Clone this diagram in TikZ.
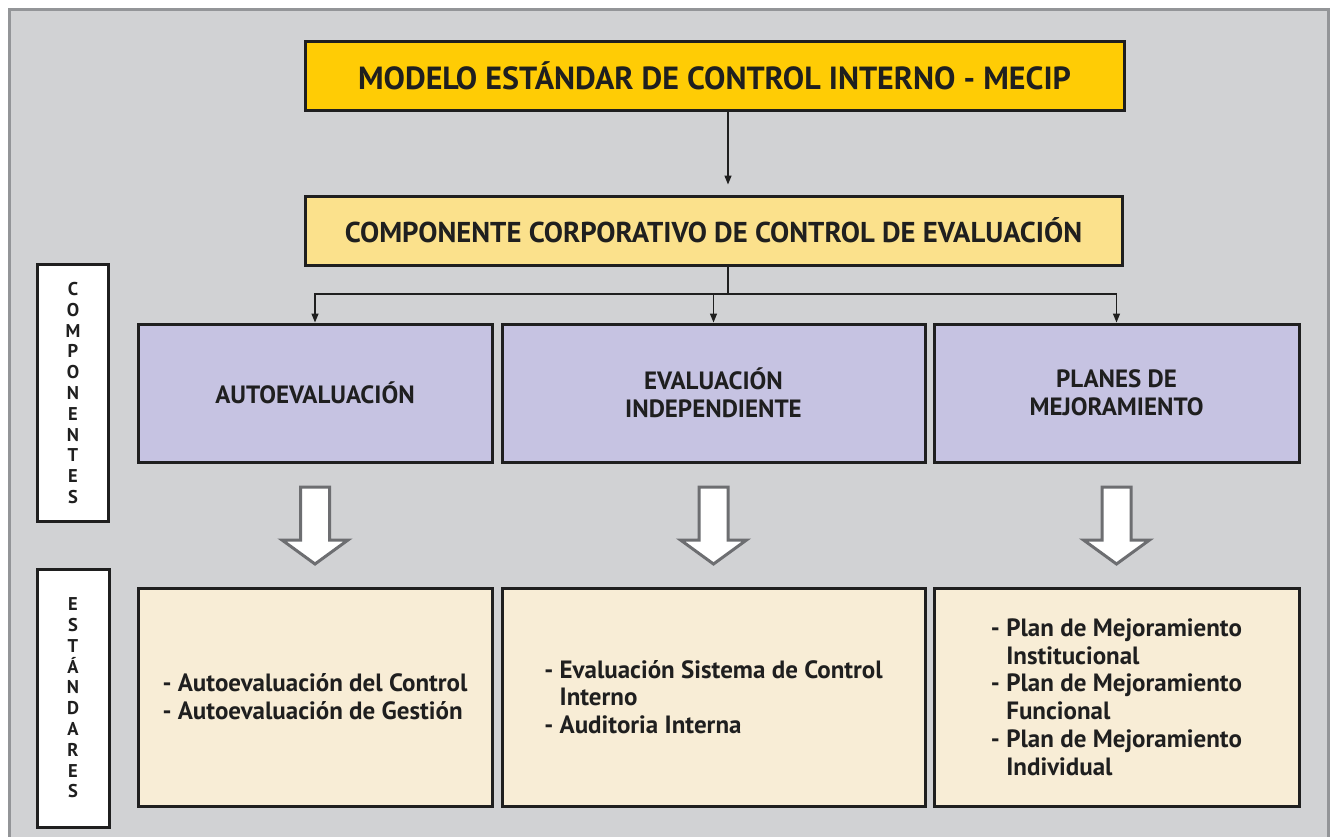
\documentclass[tikz,border=0pt]{standalone}
\usepackage{fontspec}
\setmainfont{PT Sans}
\usetikzlibrary{arrows.meta,calc}
\definecolor{bgc}{HTML}{D1D2D4}
\definecolor{framec}{HTML}{939598}
\definecolor{yel}{HTML}{FFCC05}
\definecolor{lyel}{HTML}{FBE18C}
\definecolor{purp}{HTML}{C6C3E2}
\definecolor{cream}{HTML}{F8EDD6}
\definecolor{arrc}{HTML}{6D6E71}
\begin{document}
\begin{tikzpicture}[x=1pt,y=-1pt,
  box/.style={draw=black!88, line width=3pt, inner sep=0pt, font=\bfseries, text=black!88},
  conn/.style={draw=black!88, line width=1.4pt, -{Triangle[length=9pt,width=7pt]}},
  line/.style={draw=black!88, line width=1.4pt},
  blockarrow/.style={draw=arrc, fill=white, line width=3pt, line join=miter},
  vlabel/.style={box, fill=white, align=center, font=\bfseries\fontsize{18.5}{20.8}\selectfont},
  purpbox/.style={box, fill=purp, minimum height=138pt, align=center, font=\bfseries\fontsize{25}{28}\selectfont},
  creambox/.style={box, fill=cream, minimum height=218pt, align=left, font=\bfseries\fontsize{25}{27.8}\selectfont}]
\useasboundingbox (0,0) rectangle (1334,836);
\begin{scope}
\clip (0,0) rectangle (1334,836);
\draw[draw=framec, line width=3pt, fill=bgc] (9.5,9.5) rectangle (1328.5,870);
\end{scope}

\node[box, fill=yel, minimum width=819pt, minimum height=69pt, font=\bfseries\fontsize{32}{36}\selectfont] (top) at (714.5,75.5) {MODELO ESTÁNDAR DE CONTROL INTERNO - MECIP};
\node[box, fill=lyel, minimum width=817pt, minimum height=69pt, font=\bfseries\fontsize{28.7}{32}\selectfont] (comp) at (713.5,230.5) {COMPONENTE CORPORATIVO DE CONTROL DE EVALUACIÓN};

\coordinate (mx) at (728,0);
\coordinate (j) at (728,294);

\node[purpbox, minimum width=354pt] (p1) at (315,393) {AUTOEVALUACIÓN};
\node[purpbox, minimum width=423pt] (p2) at (713.5,393) {EVALUACIÓN\\INDEPENDIENTE};
\node[purpbox, minimum width=365pt] (p3) at (1116.5,393) {PLANES DE\\MEJORAMIENTO};

\draw[conn] (top.south -| mx) -- ($(comp.north -| mx)+(0,-10)$);
\draw[line] (comp.south -| mx) -- (j);
\draw[conn] (j) -| (p1.north);
\draw[conn] (j) -| (p2.north);
\draw[conn] (j) -| (p3.north);

\node[creambox, minimum width=354pt] (c1) at (315,697) {- Autoevaluación del Control\\- Autoevaluación de Gestión};
\node[creambox, minimum width=423pt] (c2) at (713.5,697) {- Evaluación Sistema de Control\\\hphantom{- }Interno\\- Auditoria Interna};
\node[creambox, minimum width=365pt] (c3) at (1116.5,697) {- Plan de Mejoramiento\\\hphantom{- }Institucional\\- Plan de Mejoramiento\\\hphantom{- }Funcional\\- Plan de Mejoramiento\\\hphantom{- }Individual};

\node[vlabel, minimum width=71pt, minimum height=257pt] (l1) at (73,393) {C\\O\\M\\P\\O\\N\\E\\N\\T\\E\\S};
\node[vlabel, minimum width=72pt, minimum height=258pt] (l2) at (73,698) {E\\S\\T\\Á\\N\\D\\A\\R\\E\\S};

\foreach \cx in {315,713.5,1116.5}{
  \draw[blockarrow] (\cx-14.5,487) -- (\cx+14.5,487) -- (\cx+14.5,540) -- (\cx+33,540) -- (\cx,564) -- (\cx-33,540) -- (\cx-14.5,540) -- cycle;
}
\end{tikzpicture}
\end{document}
